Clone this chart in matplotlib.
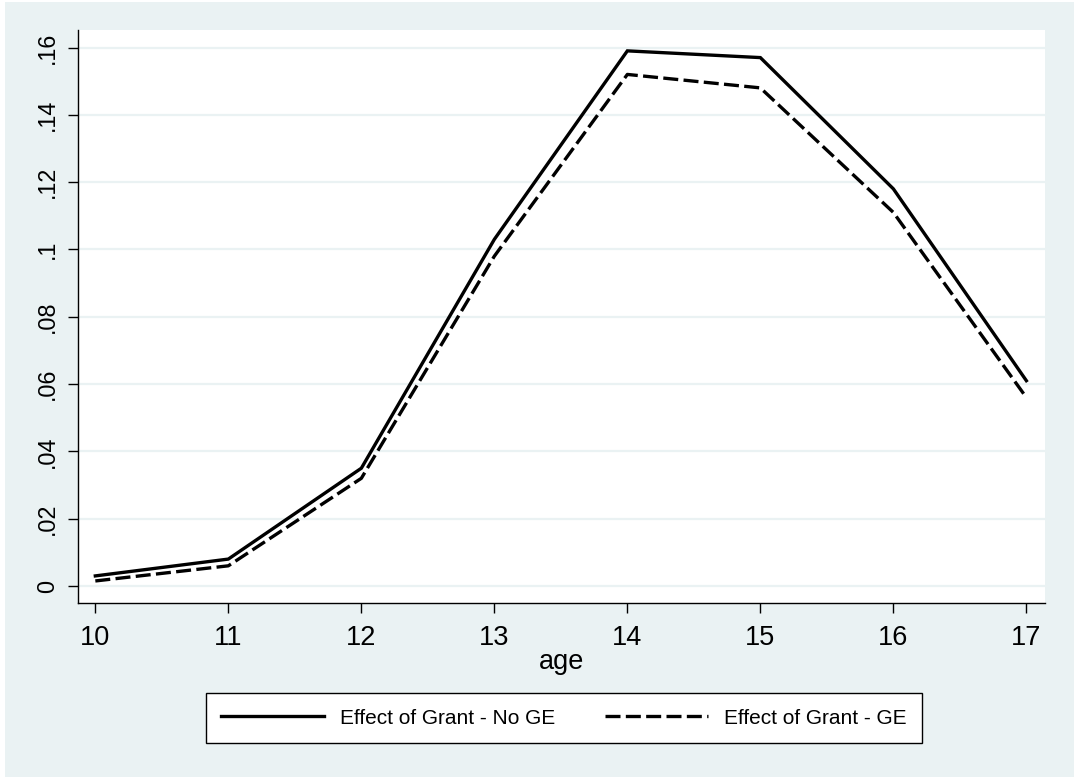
import matplotlib
matplotlib.use("Agg")
import matplotlib.pyplot as plt
from matplotlib.patches import Rectangle

age = [10, 11, 12, 13, 14, 15, 16, 17]
no_ge = [0.003, 0.008, 0.035, 0.103, 0.159, 0.157, 0.118, 0.061]
ge = [0.0015, 0.006, 0.032, 0.098, 0.152, 0.148, 0.111, 0.056]
yticks = [0, 0.02, 0.04, 0.06, 0.08, 0.10, 0.12, 0.14, 0.16]
ytick_labels = ["0", ".02", ".04", ".06", ".08", ".1", ".12", ".14", ".16"]
xticks = [10, 11, 12, 13, 14, 15, 16, 17]
label_no_ge = "Effect of Grant - No GE"
label_ge = "Effect of Grant - GE"

plt.rcParams['font.family'] = ['Liberation Sans', 'DejaVu Sans']

bg = "#EAF2F3"
W, H = 1074, 778
fig = plt.figure(figsize=(W / 100, H / 100), dpi=100, facecolor="white")
fig.add_artist(Rectangle((5 / W, 1 / H), (W - 5) / W, (H - 3) / H,
                         transform=fig.transFigure, facecolor=bg,
                         edgecolor="none", zorder=-10))
L, R, T, B = 78.3, 1045, 30, 602.7
ax = fig.add_axes([L / W, 1 - B / H, (R - L) / W, (B - T) / H])
ax.set_facecolor("white")

ax.plot(age, no_ge, color="black", lw=2.4, solid_joinstyle="miter", label=label_no_ge)
ax.plot(age, ge, color="black", lw=2.4, dashes=(4.5, 1.6), label=label_ge)

ax.set_xlim(9.872, 17.14)
ax.set_ylim(-0.00496, 0.1652)
ax.set_xticks(xticks)
ax.set_yticks(yticks)
ax.set_yticklabels(ytick_labels, rotation=90, va="center")
ax.tick_params(axis="x", labelsize=19.5, length=7.2, width=1, pad=8.5, direction="out")
ax.tick_params(axis="y", labelsize=16.8, length=7.2, width=1, pad=6.5, direction="out")
ax.yaxis.grid(True, color=bg, lw=1.6)
ax.set_axisbelow(True)
for s in ["top", "right"]:
    ax.spines[s].set_visible(False)
for s in ["left", "bottom"]:
    ax.spines[s].set_linewidth(1)
    ax.spines[s].set_color("black")

ax.set_xlabel("age", fontsize=19.5, labelpad=-1)

leg = fig.legend(loc="center", bbox_to_anchor=(564 / W, 1 - 718 / H), ncol=2,
                 fontsize=15, frameon=True, fancybox=False, edgecolor="black",
                 handlelength=4.95, handletextpad=0.77, columnspacing=2.36,
                 borderpad=0.75, framealpha=1)
leg.get_frame().set_linewidth(1)

fig.savefig("out.png", dpi=100, facecolor="white")
